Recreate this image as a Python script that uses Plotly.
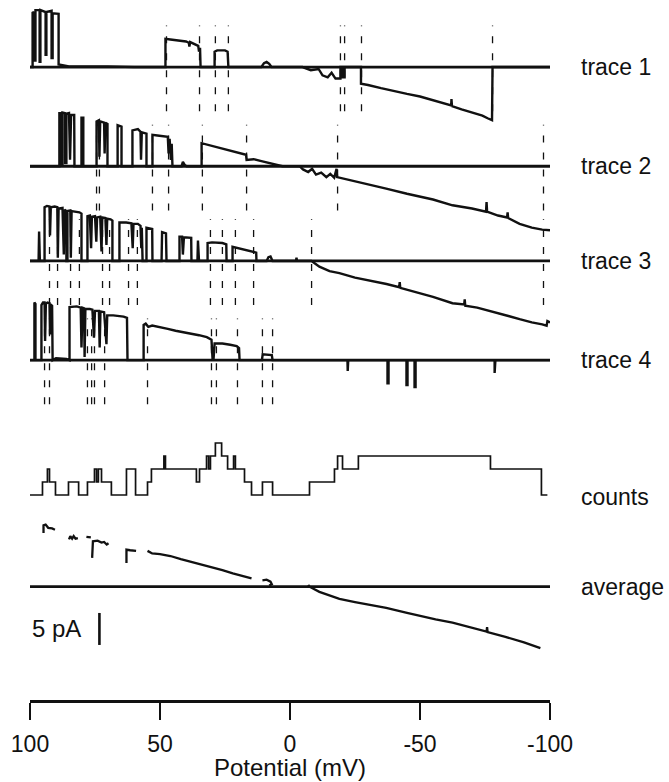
import plotly.graph_objects as go

# ---------------------------------------------------------------
# Single-channel ramp sweeps: (potential mV, current pA) vertices,
# current measured from each sweep's own zero-current line.
# ---------------------------------------------------------------
TRACE1 = [
    (100, 0), (99.0, 0), (99.0, 8.6), (98.3, 8.4), (98.3, 1.0), (97.9, 1.0), (97.9, 8.9),
    (96.3, 8.9), (96.3, 0.8), (96.0, 0.8), (96.0, 8.9), (94.0, 8.6), (94.0, 1.9), (93.7, 1.9),
    (93.7, 8.6), (91.7, 8.8), (91.7, 1.4), (91.3, 1.4), (91.3, 8.4), (89.0, 8.3), (89.0, 0.4),
    (88.0, 0.3), (85.0, 0.1), (70.0, 0.1), (60.0, 0.0),
    (47.9, 0), (47.9, 4.4), (46.0, 4.3), (43.0, 4.1), (40.0, 4.0), (38.9, 3.8), (38.7, 3.2),
    (38.4, 3.9), (36.7, 3.6), (35.3, 3.3), (35.0, 2.4), (34.6, 3.0), (34.4, 0),
    (29.0, 0), (29.0, 2.4), (28.0, 2.6), (25.0, 2.6), (24.0, 2.4), (23.7, 0),
    (11.0, 0), (10.0, 0.6), (9.0, 0.8), (8.0, 0.5), (7.1, 0),
    (-4.8, 0), (-8.0, -0.5), (-11.0, -0.3), (-12.5, -1.3), (-14.5, -1.6), (-16.0, -0.9),
    (-17.5, -1.8), (-19.4, -1.8), (-19.4, 0), (-20.2, 0), (-20.2, -1.6), (-21.0, -1.6),
    (-21.0, 0), (-27.3, 0),
    (-27.3, -2.6), (-30.0, -2.8), (-35.0, -3.3), (-40.0, -3.8), (-45.0, -4.2), (-50.0, -4.6),
    (-55.0, -5.2), (-60.0, -5.8), (-62.0, -6.0), (-62.1, -5.0), (-62.3, -6.1), (-66.0, -6.6),
    (-70.0, -7.1), (-74.0, -7.6), (-76.0, -8.0), (-77.7, -8.3), (-77.9, 0),
    (-100, 0),
]

TRACE2 = [
    (100, 0), (88.7, 0), (88.7, 8.3), (88.0, 8.3), (88.0, 0.3), (87.5, 0.3), (87.5, 8.4),
    (86.5, 8.3), (86.5, 0.5), (86.0, 0.5), (86.0, 8.2), (85.0, 8.3), (84.6, 1.0), (84.2, 8.0),
    (83.0, 8.0), (82.9, 0),
    (80.2, 0), (80.2, 7.6), (79.5, 7.6), (79.5, 0),
    (74.4, 0), (74.4, 7.0), (73.5, 7.2), (73.3, 1.5), (73.0, 7.0), (71.5, 6.8), (71.3, 2.0),
    (71.0, 6.8), (70.2, 6.6), (70.2, 0),
    (66.3, 0), (66.3, 6.4), (64.8, 6.2), (64.8, 0),
    (60.6, 0), (60.6, 5.6), (58.5, 5.8), (57.5, 5.4), (57.3, 1.0), (57.0, 5.3), (55.2, 5.1),
    (55.2, 0),
    (52.9, 0), (52.9, 4.9), (51.0, 4.8), (48.0, 4.7), (47.0, 4.6), (46.7, 2.0), (46.3, 4.3),
    (45.8, 1.0), (45.5, 3.5), (45.2, 0),
    (41.7, 0), (41.2, 0.7), (40.5, 0.2), (39.8, 0),
    (34.0, 0), (34.0, 3.6), (32.0, 3.4), (30.0, 3.1), (28.0, 2.9), (25.0, 2.6), (22.0, 2.3),
    (19.0, 2.0), (16.9, 1.8), (16.7, 1.0), (14.0, 1.1), (11.0, 0.8), (8.0, 0.5), (5.0, 0.2),
    (2.9, 0),
    (-3.7, 0), (-5.0, -0.5), (-7.0, -0.9), (-8.5, -0.4), (-10.0, -1.3), (-12.0, -1.0),
    (-14.0, -1.7), (-15.5, -1.2), (-17.0, -1.8), (-17.9, -0.4),
    (-18.1, -1.7), (-25.0, -2.4), (-30.0, -2.8), (-37.0, -3.5), (-45.0, -4.3), (-50.0, -4.7),
    (-55.0, -5.2), (-62.5, -6.1), (-70.0, -6.6), (-75.4, -7.1), (-75.6, -5.6), (-75.8, -7.1),
    (-80.0, -7.7), (-83.5, -8.0), (-83.7, -7.2), (-83.9, -8.1), (-88.3, -9.0), (-93.0, -9.6),
    (-97.0, -9.9), (-100, -10.0),
]

TRACE3 = [
    (100, 0), (96.7, 0), (96.5, 4.6), (96.2, 0),
    (94.4, 0), (94.4, 8.4), (93.5, 8.6), (92.5, 8.5), (92.3, 4.0), (92.0, 8.4), (90.5, 8.5),
    (89.5, 8.4), (89.3, 0.5), (89.0, 8.2), (87.5, 8.3), (87.0, 1.0), (86.7, 8.0), (86.0, 7.8),
    (86.0, 0),
    (85.6, 0), (85.6, 7.8), (85.0, 7.9), (84.5, 7.9), (84.3, 0.5), (84.0, 7.8), (81.0, 7.6),
    (80.2, 7.4), (80.2, 0),
    (77.9, 0), (77.9, 7.0), (77.0, 7.1), (76.5, 2.0), (76.2, 6.9), (75.0, 7.0), (74.5, 3.0),
    (74.2, 6.8), (73.0, 6.9), (72.5, 1.5), (72.2, 6.8), (71.0, 6.7), (70.6, 2.5), (70.3, 6.6),
    (69.0, 6.5), (68.3, 6.3), (68.3, 0),
    (65.6, 0), (65.6, 6.0), (63.0, 6.0), (61.0, 5.9), (60.5, 2.0), (60.2, 5.8), (58.5, 5.8),
    (57.5, 5.5), (57.2, 2.0), (57.0, 5.2), (56.7, 0),
    (55.2, 0), (55.2, 5.2), (53.0, 5.0), (52.9, 0),
    (49.4, 0), (49.2, 4.5), (47.7, 4.3), (47.5, 0),
    (42.5, 0), (42.5, 3.8), (41.5, 3.8), (41.2, 1.0), (40.8, 3.7), (38.0, 3.6), (37.9, 0),
    (35.6, 0), (35.4, 3.2), (35.0, 0),
    (31.7, 0), (31.7, 2.8), (30.0, 2.9), (26.0, 2.8), (24.5, 2.6), (24.4, 0),
    (22.1, 0), (22.1, 2.2), (20.0, 2.0), (17.0, 1.7), (14.0, 1.4), (13.0, 1.3), (12.9, 0),
    (9.0, 0), (8.3, 0.6), (7.5, 0.7), (6.7, 0),
    (-2.3, 0), (-2.5, 0.5), (-2.7, 0),
    (-8.3, 0), (-11.3, -0.9), (-15.2, -1.6), (-19.0, -1.9), (-25.0, -2.6), (-30.0, -3.0),
    (-37.1, -3.6), (-42.0, -4.1), (-42.2, -3.3), (-42.4, -4.2), (-50.0, -5.0), (-55.0, -5.6),
    (-62.5, -6.6), (-67.0, -6.8), (-67.2, -6.0), (-67.4, -7.0), (-72.0, -7.3), (-76.0, -7.7),
    (-79.4, -8.1), (-84.0, -8.6), (-88.3, -9.1), (-93.0, -9.6), (-97.0, -9.9), (-98.7, -10.1),
    (-99.0, -9.4), (-100, -9.6),
]

TRACE4 = [
    (100, 0), (98.3, 0), (98.3, 9.0), (97.9, 8.8), (97.9, 0), (95.6, 0),
    (95.6, 8.6), (95.0, 9.0), (94.4, 9.0), (94.2, 3.0), (93.9, 8.8), (93.3, 9.0), (92.5, 8.9),
    (92.3, 4.0), (92.1, 8.7), (91.5, 8.5), (91.3, 0), (90.0, 0.3), (86.0, 0.2), (84.8, 0),
    (84.8, 8.3), (82.0, 8.4), (80.5, 8.2), (80.2, 2.0), (79.8, 8.2), (79.2, 8.1), (79.0, 0.5),
    (78.7, 8.0), (77.0, 8.0), (76.0, 7.9), (75.4, 3.5), (75.0, 7.7), (73.5, 7.7), (73.2, 2.0),
    (72.9, 7.6), (71.5, 7.5), (70.6, 2.5), (70.3, 7.0), (68.0, 7.0), (66.0, 6.9), (64.0, 6.8),
    (62.7, 6.6), (62.5, 0),
    (56.3, 0), (56.3, 5.5), (55.5, 5.7), (54.5, 5.2), (53.0, 5.4), (50.0, 5.2), (47.0, 4.9),
    (44.0, 4.6), (41.0, 4.4), (38.0, 4.1), (35.0, 3.9), (32.0, 3.6), (30.2, 3.2), (29.8, 0.3),
    (29.4, 0.2), (29.0, 2.6), (26.0, 2.6), (23.0, 2.4), (20.5, 2.2), (19.6, 1.9), (19.4, 0),
    (10.8, 0), (10.5, 0.9), (7.0, 0.8), (6.7, 0),
    (-22.1, 0), (-22.2, -1.7), (-22.4, 0),
    (-37.5, 0), (-37.5, -3.6), (-37.9, -3.6), (-37.9, 0),
    (-44.8, 0), (-44.8, -3.9), (-45.2, -3.9), (-45.2, 0),
    (-47.9, 0), (-47.9, -4.2), (-48.3, -4.2), (-48.3, 0),
    (-78.7, 0), (-78.7, -2.0), (-79.0, 0), (-100, 0),
]

# Mean open-channel current (undefined where no sweep is open)
AVERAGE = [
    (94.8, 8.4), (94.8, 9.6), (94.0, 9.7), (93.0, 9.2), (91.5, 9.1), (90.4, 8.9), (None, None),
    (85.0, 7.4), (84.5, 7.9), (83.8, 7.5), (83.2, 7.9), (82.5, 7.5), (81.6, 7.6), (None, None),
    (78.3, 7.8), (76.6, 7.7), (None, None),
    (76.1, 4.5), (75.8, 7.1), (74.0, 7.2), (72.5, 6.9), (71.5, 7.0), (70.5, 6.6), (69.8, 6.8),
    (None, None),
    (62.9, 3.7), (62.9, 5.8), (61.5, 5.7), (59.2, 5.6), (None, None),
    (54.8, 5.6), (53.0, 5.2), (50.0, 5.1), (46.0, 4.8), (42.0, 4.3), (38.0, 3.9), (34.0, 3.5),
    (30.0, 3.0), (26.0, 2.6), (22.0, 2.1), (18.0, 1.6), (14.8, 1.3), (None, None),
    (10.6, 1.0), (9.0, 1.1), (7.5, 0.8), (7.0, 0.4), (8.0, 0.2), (None, None),
    (-7.0, 0.3), (-7.5, 0.0), (-11.3, -0.8), (-15.2, -1.4), (-19.0, -1.9), (-25.0, -2.4),
    (-30.0, -2.8), (-37.0, -3.3), (-45.0, -4.1), (-50.0, -4.6), (-56.0, -5.1), (-62.5, -5.6),
    (-70.0, -6.4), (-75.6, -7.0), (-75.8, -6.3), (-76.0, -7.1), (-82.5, -7.8), (-90.0, -8.7),
    (-96.3, -9.6),
]

# Opening/closing transitions marked on each sweep (mV)
MARKS1 = [47.5, 34.8, 28.7, 23.7, -19.4, -21.0, -27.5, -77.9]
MARKS2 = [74.4, 73.3, 52.9, 46.7, 33.7, 16.7, -18.3, -97.5]
MARKS3 = [92.5, 89.4, 84.4, 81.0, 72.1, 69.4, 62.1, 58.7, 30.6, 26.0, 21.0, 14.0, -8.3, -97.5]
MARKS4 = [94.4, 92.5, 77.9, 76.3, 75.2, 71.3, 54.8, 30.2, 28.3, 20.2, 10.6, 6.7]

# Number of open channels between successive potentials
COUNT_EDGES = [100, 95.2, 93.3, 92.5, 90.2, 85.2, 81.3, 77.9, 75.2, 74.4, 73.7, 72.5, 68.7,
               62.9, 59.4, 54.8, 53.3, 48.5, 47.9, 36.0, 34.8, 32.1, 31.3, 30.6, 28.7, 26.3,
               24.0, 21.7, 21.0, 17.5, 14.8, 10.6, 6.7, -7.5, -17.1, -18.3, -20.2, -26.3,
               -77.1, -96.7, -99.0]
COUNTS = [0, 1, 2, 1, 0, 1, 0, 1, 2, 1, 2, 1, 0, 2, 0, 1, 2, 3, 2, 1, 2, 3, 2, 3, 4, 3, 2,
          3, 2, 1, 0, 1, 0, 1, 2, 3, 2, 3, 2, 0]

TICK_VALUES = [100, 50, 0, -50, -100]
TICK_TEXT = ["100", "50", "0", "-50", "-100"]
SCALE_BAR_PA = 5
SWEEP_NAMES = ["trace 1", "trace 2", "trace 3", "trace 4"]

# ---------------------------------------------------------------
# Vertical stacking (pA offsets of each zero line on the shared axis)
# ---------------------------------------------------------------
Y_MAX = 109.375
OFFSETS = [98.9, 83.4, 68.6, 53.1]
AVG_OFFSET = 17.7
COUNT_RANGE = [-15.77, 38.08]
FONT = "Liberation Sans, Arial, Helvetica, sans-serif"
INK = "#111111"
LABEL_X = 1.056

fig = go.Figure()


def add_line(points, offset, width, yaxis="y"):
    xs = [p[0] for p in points]
    ys = [None if p[1] is None else p[1] + offset for p in points]
    fig.add_trace(go.Scatter(x=xs, y=ys, mode="lines", yaxis=yaxis,
                             line=dict(color=INK, width=width), hoverinfo="skip"))


def add_marks(marks, offset):
    xs, ys = [], []
    for m in marks:
        xs += [m, m, None]
        ys += [offset - 6.9, offset + 6.5, None]
    fig.add_trace(go.Scatter(x=xs, y=ys, mode="lines",
                             line=dict(color=INK, width=1.3, dash="7px,10px"),
                             hoverinfo="skip"))


# transition markers sit underneath the sweeps
for marks, off in zip([MARKS1, MARKS2, MARKS3, MARKS4], OFFSETS):
    add_marks(marks, off)

# zero-current lines
for off in OFFSETS + [AVG_OFFSET]:
    add_line([(100, 0), (-100, 0)], off, 2.8)

# the four sweeps
for pts, off in zip([TRACE1, TRACE2, TRACE3, TRACE4], OFFSETS):
    add_line(pts, off, 2.4)

# averaged open-channel current
add_line(AVERAGE, AVG_OFFSET, 2.3)

# open-channel counts as a staircase
fig.add_trace(go.Scatter(
    x=COUNT_EDGES, y=COUNTS + [COUNTS[-1]], mode="lines", yaxis="y2",
    line=dict(color=INK, width=1.7, shape="hv"), hoverinfo="skip"))

# 5 pA calibration bar
bar_x = 73.3
bar_y0 = 8.6
fig.add_trace(go.Scatter(x=[bar_x, bar_x], y=[bar_y0, bar_y0 + SCALE_BAR_PA], mode="lines",
                         line=dict(color=INK, width=2.6), hoverinfo="skip"))

label_font = dict(family=FONT, size=23, color=INK)
annotations = []
for name, off in zip(SWEEP_NAMES, OFFSETS):
    annotations.append(dict(text=name, xref="paper", yref="y", x=LABEL_X, y=off,
                            xanchor="left", yanchor="middle", showarrow=False,
                            font=label_font))
annotations.append(dict(text="counts", xref="paper", yref="y", x=LABEL_X, y=31.7,
                        xanchor="left", yanchor="middle", showarrow=False, font=label_font))
annotations.append(dict(text="average", xref="paper", yref="y", x=LABEL_X, y=AVG_OFFSET,
                        xanchor="left", yanchor="middle", showarrow=False, font=label_font))
annotations.append(dict(text=f"{SCALE_BAR_PA} pA", xref="paper", yref="y", x=0.0,
                        y=bar_y0 + SCALE_BAR_PA / 2, xanchor="left", yanchor="middle",
                        showarrow=False, font=dict(family=FONT, size=24, color=INK)))
annotations.append(dict(text="Potential (mV)", xref="paper", yref="paper", x=0.5, y=-0.096,
                        xanchor="center", yanchor="middle", showarrow=False,
                        font=dict(family=FONT, size=24, color=INK)))

fig.update_layout(
    width=669, height=782,
    margin=dict(l=30, r=119, t=0, b=82),
    plot_bgcolor="white", paper_bgcolor="white",
    showlegend=False,
    annotations=annotations,
    xaxis=dict(range=[100, -100], tickvals=TICK_VALUES, ticktext=TICK_TEXT,
               ticks="outside", ticklen=17, tickwidth=2, tickcolor=INK,
               ticklabelstandoff=4,
               showline=True, linewidth=2.8, linecolor=INK,
               showgrid=False, zeroline=False,
               tickfont=dict(family=FONT, size=23, color=INK)),
    yaxis=dict(range=[0, Y_MAX], visible=False, fixedrange=True),
    yaxis2=dict(range=COUNT_RANGE, overlaying="y", visible=False, fixedrange=True),
)

fig.write_html("out.html")
